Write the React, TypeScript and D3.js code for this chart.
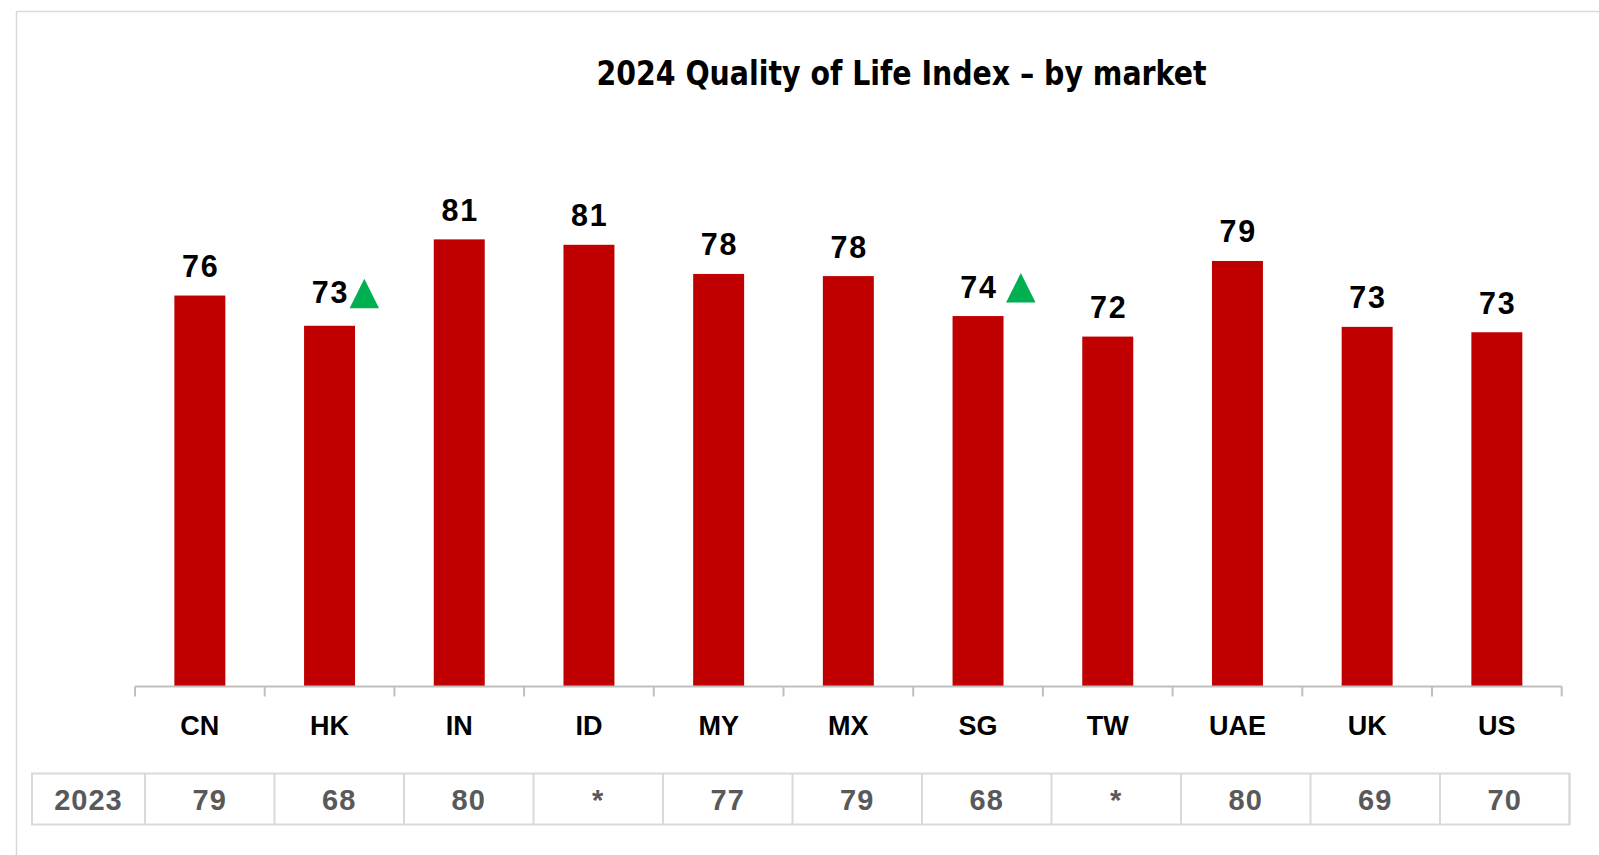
import React from "react";
import * as d3 from "d3";

const title = "2024 Quality of Life Index – by market";
const categories = ["CN", "HK", "IN", "ID", "MY", "MX", "SG", "TW", "UAE", "UK", "US"];
const values2024 = [76.2, 73.4, 81.4, 80.9, 78.2, 78.0, 74.3, 72.4, 79.4, 73.3, 72.8];
const values2023 = ["79", "68", "80", "*", "77", "79", "68", "*", "80", "69", "70"];
const improved = ["HK", "SG"];
const tableRowLabel = "2023";

const W = 1599;
const H = 855;
const axisLeft = 135;
const axisRight = 1561.7;
const baseY = 686.5;
const tableLeft = 32;
const tableFirstColRight = 145;
const tableRight = 1569.5;
const tableTop = 773.5;
const tableBottom = 824.5;
const triDx: Record<string, number> = { HK: 20, SG: 28 };
const labelGap: Record<string, number> = { HK: 22.5 };

export default function App() {
  const x = d3
    .scaleBand<string>()
    .domain(categories)
    .range([axisLeft, axisRight])
    .paddingInner(0.607)
    .paddingOuter(0.3035);
  const step = x.step();
  const y = d3.scaleLinear().domain([40, 90]).range([baseY, baseY - 540]);
  const tx = d3.scaleBand<string>().domain(categories).range([tableFirstColRight, tableRight]);

  const font = "'Liberation Sans', Arial, sans-serif";
  const grid = "#d9d9d9";
  const tableMid = (tableTop + tableBottom) / 2;

  return (
    <svg
      width={W}
      height={H}
      style={{ position: "absolute", left: 0, top: 0, background: "#fff" }}
      fontFamily={font}
    >
      <rect x={16.5} y={11.5} width={W} height={H} fill="#fff" stroke="#d9d9d9" strokeWidth={1.5} />
      <text
        x={901.5}
        y={84.5}
        textAnchor="middle"
        fontFamily="'Liberation Sans Narrow', 'DejaVu Sans Condensed', Arial, sans-serif"
        fontWeight="bold"
        fontSize={33}
        textLength={610}
        lengthAdjust="spacingAndGlyphs"
        fill="#000"
      >
        {title}
      </text>

      {categories.map((c, i) => {
        const v = values2024[i];
        const bx = x(c)!;
        const cx = bx + x.bandwidth() / 2;
        const top = y(v);
        const gap = labelGap[c] ?? 18.5;
        return (
          <g key={c}>
            <rect x={bx} y={top} width={x.bandwidth()} height={baseY - top} fill="#c00000" />
            <text
              x={cx + 0.9}
              y={top - gap}
              textAnchor="middle"
              fontSize={30.5}
              fontWeight="bold"
              letterSpacing={1.8}
              fill="#000"
            >
              {Math.round(v)}
            </text>
            {improved.includes(c) && (
              <path
                d={(() => {
                  const l = cx + (triDx[c] ?? 24);
                  const b = top - gap + 5;
                  return `M${l},${b} L${l + 29.5},${b} L${l + 14.75},${b - 29.5} Z`;
                })()}
                fill="#00b050"
              />
            )}
            <text x={cx} y={735} textAnchor="middle" fontSize={27} fontWeight="bold" fill="#000">
              {c}
            </text>
          </g>
        );
      })}

      <line x1={axisLeft} x2={axisRight} y1={baseY} y2={baseY} stroke="#bfbfbf" strokeWidth={2} />
      {d3.range(categories.length + 1).map((i) => (
        <line
          key={i}
          x1={axisLeft + i * step}
          x2={axisLeft + i * step}
          y1={baseY}
          y2={baseY + 10}
          stroke="#bfbfbf"
          strokeWidth={2}
        />
      ))}

      <rect
        x={tableLeft}
        y={tableTop}
        width={tableRight - tableLeft}
        height={tableBottom - tableTop}
        fill="none"
        stroke={grid}
        strokeWidth={2}
      />
      <line x1={tableFirstColRight} x2={tableFirstColRight} y1={tableTop} y2={tableBottom} stroke={grid} strokeWidth={2} />
      {categories.map((c) => (
        <line
          key={"v" + c}
          x1={tx(c)! + tx.bandwidth()}
          x2={tx(c)! + tx.bandwidth()}
          y1={tableTop}
          y2={tableBottom}
          stroke={grid}
          strokeWidth={2}
        />
      ))}
      <text
        x={(tableLeft + tableFirstColRight) / 2}
        y={tableMid + 10.5}
        textAnchor="middle"
        fontSize={29}
        fontWeight="bold"
        letterSpacing={1}
        fill="#595959"
      >
        {tableRowLabel}
      </text>
      {categories.map((c, i) => (
        <text
          key={"t" + c}
          x={tx(c)! + tx.bandwidth() / 2}
          y={tableMid + 10.5}
          textAnchor="middle"
          fontSize={29}
          fontWeight="bold"
          letterSpacing={1}
          fill="#595959"
        >
          {values2023[i]}
        </text>
      ))}
    </svg>
  );
}
